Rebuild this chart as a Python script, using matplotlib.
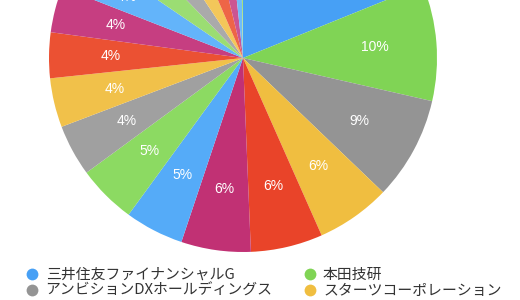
import matplotlib
matplotlib.use("Agg")
import matplotlib.pyplot as plt
from matplotlib.lines import Line2D

plt.rcParams['font.family'] = ['Noto Sans CJK JP', 'DejaVu Sans']

# slice shares (%), clockwise from 12 o'clock
values = [18.9, 9.7, 8.6, 6.2, 6.0, 5.8, 4.9, 4.9, 4.3, 4.1, 3.8, 3.8, 3.6,
          3.2, 2.9, 2.9, 2.7, 2.1, 1.4, 0.3]
colors = ['#47A0F5', '#80D455', '#949494', '#F0BE40', '#E94429', '#C13174',
          '#55ABF8', '#8CDA62', '#A0A0A0', '#F1C14A', '#EB5133', '#C63E81',
          '#63B4FA', '#9BDD73', '#AAAAAA', '#F3C75A', '#EE6547', '#CB5592',
          '#70BBFA', '#A5E080']
legend_names = ['三井住友ファイナンシャルG', '本田技研',
                'アンビションDXホールディングス', 'スターツコーポレーション']

fig = plt.figure(figsize=(5.2, 3.0), dpi=100)
ax = fig.add_axes([0, 0, 1, 1])

def fmt(p):
    return f"{p:.0f}%" if p >= 3.5 else ""

wedges, texts, autotexts = ax.pie(
    values, colors=colors, startangle=90, counterclock=False,
    center=(243, 242), radius=194, frame=True, autopct=fmt, pctdistance=0.68,
    wedgeprops=dict(linewidth=0),
    textprops=dict(color='white', fontsize=10, family=['Liberation Sans']))
ax.set_xlim(0, 520)
ax.set_ylim(0, 300)
ax.set_aspect('auto')
ax.axis('off')
# labels whose centre lies beyond the top edge are not visible in the reference
for t in autotexts:
    if t.get_position()[1] > 306:
        t.set_visible(False)

# legend (row-wise ordering)
handles = [Line2D([], [], marker='o', linestyle='', markersize=8.5,
                  markerfacecolor=colors[i], markeredgewidth=0) for i in range(4)]
order = [0, 2, 1, 3]
leg = fig.legend([handles[i] for i in order], [legend_names[i] for i in order],
                 ncol=2, loc='upper left', bbox_to_anchor=(24 / 520, 1 - 268 / 300),
                 frameon=False, fontsize=10.7, handletextpad=0.35,
                 columnspacing=1.95, labelspacing=0.12, handlelength=1.1,
                 borderpad=0, borderaxespad=0)
for t in leg.get_texts():
    t.set_color('#333333')

fig.savefig('out.png', dpi=100)
